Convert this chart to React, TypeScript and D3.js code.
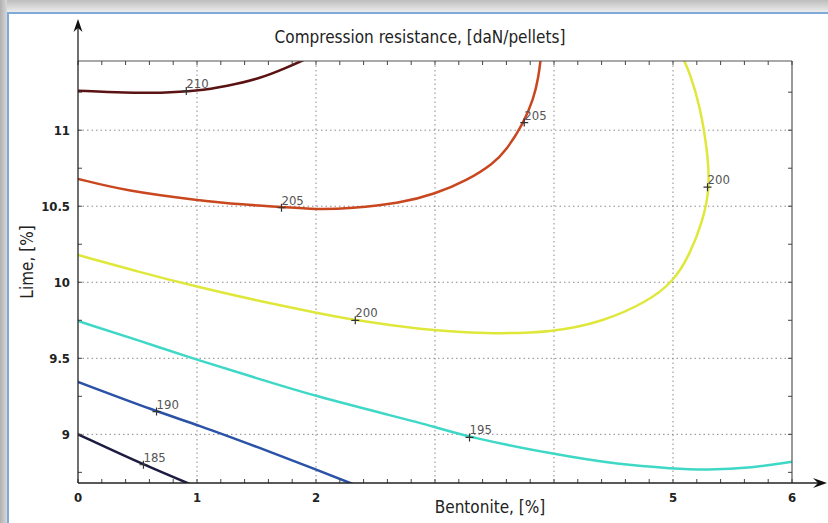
import React from "react";
import * as d3 from "d3";

const W = 828;
const H = 523;

const xTickLabels = ["0", "1", "2", "", "", "5", "6"];
const xTickValues = [0, 1, 2, 3, 4, 5, 6];
const yTickValues = [9, 9.5, 10, 10.5, 11];
const yTickLabels = ["9", "9.5", "10", "10.5", "11"];

const contour210: [number, number][] = [[0, 11.26], [0.41, 11.245], [0.69, 11.245], [1.0, 11.257], [1.25, 11.29], [1.53, 11.34], [1.75, 11.41], [1.92, 11.47]];
const contour205: [number, number][] = [[0, 10.68], [0.41, 10.6], [1.0, 10.54], [1.39, 10.51], [1.71, 10.495], [2.0, 10.478], [2.29, 10.485], [2.71, 10.52], [3.0, 10.58], [3.27, 10.67], [3.49, 10.78], [3.6, 10.87], [3.74, 11.04], [3.83, 11.21], [3.87, 11.35], [3.89, 11.48]];
const contour200: [number, number][] = [[0, 10.18], [0.5, 10.07], [1.0, 9.97], [1.5, 9.88], [2.0, 9.8], [2.33, 9.75], [2.87, 9.69], [3.43, 9.66], [3.99, 9.67], [4.41, 9.74], [4.78, 9.87], [5.0, 10.0], [5.14, 10.18], [5.25, 10.4], [5.31, 10.62], [5.29, 10.86], [5.23, 11.15], [5.14, 11.38], [5.08, 11.48]];
const contour195: [number, number][] = [[0, 9.745], [0.5, 9.62], [1.0, 9.49], [1.5, 9.37], [2.0, 9.25], [2.65, 9.12], [3.0, 9.05], [3.29, 8.98], [3.99, 8.87], [4.55, 8.8], [5.0, 8.775], [5.28, 8.765], [5.67, 8.78], [6.0, 8.82]];
const contour190: [number, number][] = [[0, 9.345], [0.66, 9.15], [1.0, 9.064], [1.53, 8.91], [2.0, 8.77], [2.35, 8.66]];
const contour185: [number, number][] = [[0, 9.0], [0.55, 8.8], [0.98, 8.66]];

const levels = [210, 205, 200, 195, 190, 185];
const levelColors = ["#5a1212", "#c9471f", "#dfe83a", "#3fd8c6", "#2a52a6", "#1c1c40"];
const contours = [contour210, contour205, contour200, contour195, contour190, contour185];

const labelText = ["210", "205", "205", "200", "200", "195", "190", "185"];
const labelX = [0.91, 1.71, 3.75, 2.33, 5.29, 3.29, 0.66, 0.55];
const labelY = [11.257, 10.49, 11.05, 9.75, 10.625, 8.98, 9.15, 8.8];

const FONT = '"Liberation Sans Narrow", "DejaVu Sans Condensed", "Arial Narrow", "Liberation Sans", Arial, sans-serif';

export default function App() {
  const left = 78, right = 792, top = 61, bottom = 483;
  const x = d3.scaleLinear().domain([0, 6]).range([left, right]);
  const y = d3.scaleLinear().domain([8.68, 11.455]).range([bottom, top]);
  const line = d3.line<[number, number]>().x(d => x(d[0])).y(d => y(d[1])).curve(d3.curveBasis);

  const xMinor = d3.range(0, 6.0001, 0.2);
  const yMinor = d3.range(8.75, 11.45, 0.25);

  return (
    <svg width={W} height={H} style={{ position: "absolute", left: 0, top: 0, fontFamily: FONT }}>
      <defs>
        <linearGradient id="topg" x1="0" y1="0" x2="0" y2="1">
          <stop offset="0" stopColor="#bdbdbd" />
          <stop offset="1" stopColor="#ececec" />
        </linearGradient>
        <linearGradient id="leftg" x1="0" y1="0" x2="1" y2="0">
          <stop offset="0" stopColor="#b0b0b0" />
          <stop offset="1" stopColor="#d8d8d8" />
        </linearGradient>
        <clipPath id="plotclip">
          <rect x={left} y={top} width={right - left} height={bottom - top} />
        </clipPath>
      </defs>
      <rect x={0} y={0} width={W} height={H} fill="#ffffff" />
      <rect x={0} y={0} width={W} height={12} fill="url(#topg)" />
      <rect x={0} y={0} width={7} height={H} fill="url(#leftg)" />
      <rect x={7} y={12} width={W - 7} height={2} fill="#7ea9d8" />
      <rect x={7} y={12} width={2} height={H - 12} fill="#7ea9d8" />

      {/* grid */}
      <g stroke="#8a8a8a" strokeWidth={1} strokeDasharray="1.5,3">
        {[1, 2, 3, 4, 5].map(v => (
          <line key={"gx" + v} x1={x(v)} x2={x(v)} y1={top} y2={bottom} />
        ))}
        {yTickValues.map(v => (
          <line key={"gy" + v} x1={left} x2={right} y1={y(v)} y2={y(v)} />
        ))}
      </g>

      {/* contours */}
      <g clipPath="url(#plotclip)" fill="none" strokeWidth={2.5} strokeLinecap="round" strokeLinejoin="round">
        {contours.map((c, i) => (
          <path key={"c" + i} d={line(c) || ""} stroke={levelColors[i]} />
        ))}
      </g>

      {/* contour labels */}
      <g>
        {labelText.map((t, i) => (
          <g key={"l" + i} transform={`translate(${x(labelX[i])},${y(labelY[i])})`}>
            <path d="M-4,0H4M0,-4V4" stroke="#333" strokeWidth={1.2} />
            <text x={0} y={-3} fontSize={13} fill="#555" style={{ fontFamily: FONT }}>{t}</text>
          </g>
        ))}
      </g>

      {/* frame: top & right */}
      <line x1={left} x2={right} y1={top} y2={top} stroke="#555" strokeWidth={1.2} />
      <line x1={right} x2={right} y1={top} y2={bottom} stroke="#555" strokeWidth={1.2} />

      {/* minor/major ticks */}
      <g stroke="#444" strokeWidth={1}>
        {xMinor.map((v, i) => (
          <g key={"xt" + i}>
            <line x1={x(v)} x2={x(v)} y1={bottom} y2={bottom - 4} />
            <line x1={x(v)} x2={x(v)} y1={top} y2={top + 4} />
          </g>
        ))}
        {yMinor.map((v, i) => (
          <g key={"yt" + i}>
            <line x1={left} x2={left + 4} y1={y(v)} y2={y(v)} />
            <line x1={right} x2={right - 4} y1={y(v)} y2={y(v)} />
          </g>
        ))}
      </g>

      {/* axes with arrows */}
      <line x1={left} x2={left} y1={bottom} y2={24} stroke="#222" strokeWidth={1.3} />
      <path d={`M${left},19 L${left - 4.5},32 L${left},28 L${left + 4.5},32 Z`} fill="#111" />
      <line x1={left} x2={818} y1={bottom} y2={bottom} stroke="#222" strokeWidth={1.3} />
      <path d={`M827,${bottom} L813,${bottom - 5} L818,${bottom} L813,${bottom + 5} Z`} fill="#111" />

      {/* tick labels */}
      <g fontSize={13} fontWeight="bold" fill="#222">
        {xTickValues.map((v, i) => (
          <text key={"xl" + v} x={x(v)} y={502} textAnchor="middle">{xTickLabels[i]}</text>
        ))}
        {yTickValues.map((v, i) => (
          <text key={"yl" + v} x={70} y={y(v) + 5} textAnchor="end">{yTickLabels[i]}</text>
        ))}
      </g>

      {/* titles */}
      <text x={420} y={43} fontSize={17} textAnchor="middle" fill="#222">Compression resistance, [daN/pellets]</text>
      <text x={490} y={513} fontSize={17} textAnchor="middle" fill="#222">Bentonite, [%]</text>
      <text transform="translate(33,262) rotate(-90)" fontSize={17} textAnchor="middle" fill="#222">Lime, [%]</text>
    </svg>
  );
}
